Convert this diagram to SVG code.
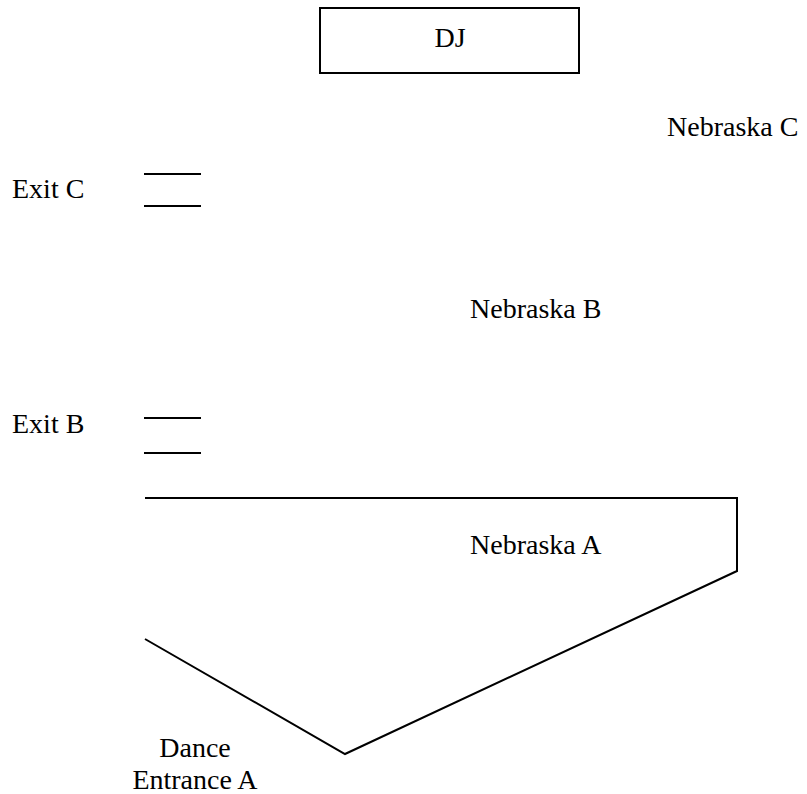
<svg xmlns="http://www.w3.org/2000/svg" width="807" height="794" viewBox="0 0 807 794">
<style>
.t{font-family:'Liberation Serif',serif;font-size:28px;fill:#000}
.ln{stroke:#000;stroke-width:2;fill:none}
</style>
<rect width="807" height="794" fill="#fff"/>
<g id="dj">
<rect class="ln" x="320" y="8" width="259" height="65"/>
<text class="t" x="450" y="47" text-anchor="middle" font-family="Liberation Serif, serif">DJ</text>
</g>
<g id="nebraska-c"><text class="t" x="667" y="136" font-family="Liberation Serif, serif">Nebraska C</text></g>
<g id="exit-c">
<text class="t" x="12" y="198" font-family="Liberation Serif, serif">Exit C</text>
<line class="ln" x1="144" y1="174" x2="201" y2="174"/>
<line class="ln" x1="144" y1="206" x2="201" y2="206"/>
</g>
<g id="nebraska-b"><text class="t" x="470" y="318" font-family="Liberation Serif, serif">Nebraska B</text></g>
<g id="exit-b">
<text class="t" x="12" y="433" font-family="Liberation Serif, serif">Exit B</text>
<line class="ln" x1="144" y1="418" x2="201" y2="418"/>
<line class="ln" x1="144" y1="453" x2="201" y2="453"/>
</g>
<g id="nebraska-a">
<polyline class="ln" points="145,498 737,498 737,571 345,754 145,639"/>
<text class="t" x="470" y="554" font-family="Liberation Serif, serif">Nebraska A</text>
</g>
<g id="dance-entrance-a">
<text class="t" x="195" y="757" text-anchor="middle" font-family="Liberation Serif, serif">Dance</text>
<text class="t" x="195" y="789" text-anchor="middle" font-family="Liberation Serif, serif">Entrance A</text>
</g>
</svg>
